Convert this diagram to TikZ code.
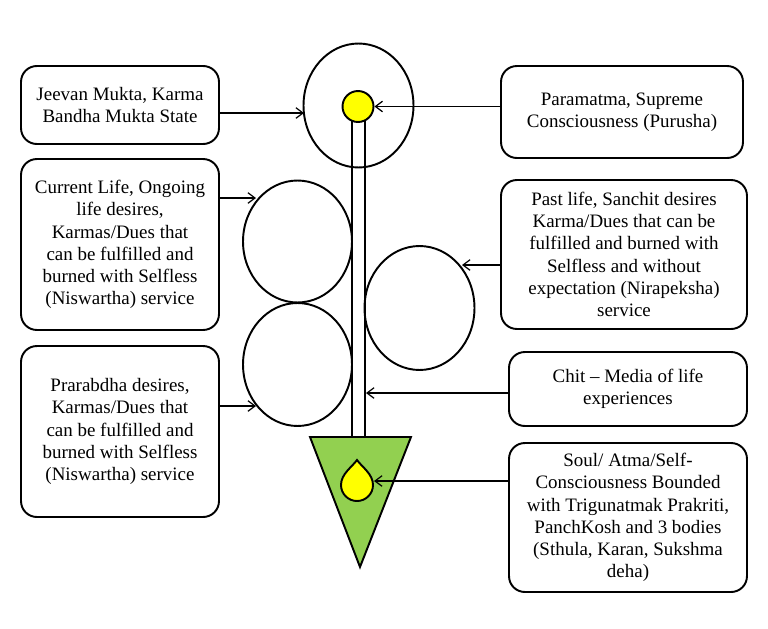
\documentclass[tikz,border=0pt]{standalone}
\usepackage{fontspec}
\setmainfont{Liberation Serif}
\usetikzlibrary{shapes.geometric,arrows.meta}
\definecolor{leafgreen}{HTML}{92D050}
\definecolor{sunyellow}{HTML}{FFFF00}
\tikzset{
  infobox/.style={draw=black, line width=1.1pt, rounded corners=9pt, align=center,
    inner sep=2pt, font=\fontsize{10.8}{12.7}\selectfont},
  ringshape/.style={draw=black, line width=1.1pt, ellipse, inner sep=0pt},
  arr/.style={draw=black, line width=0.7pt, -{Straight Barb[length=4pt,width=6pt]}},
  stemline/.style={draw=black, line width=1.1pt}
}
\begin{document}
\begin{tikzpicture}[x=0.02cm,y=-0.02cm]
\useasboundingbox (0,0) rectangle (768,629);
% left boxes
\node[infobox, minimum width=3.96cm, minimum height=1.56cm] (b1) at (120,105)
  {Jeevan Mukta, Karma\\Bandha Mukta State};
\node[infobox, minimum width=3.96cm, minimum height=3.42cm] (b2) at (120,244.5)
  {Current Life, Ongoing\\life desires,\\Karmas/Dues that\\can be fulfilled and\\burned with Selfless\\(Niswartha) service};
\node[infobox, minimum width=3.96cm, minimum height=3.42cm] (b3) at (120,431.5)
  {Prarabdha desires,\\Karmas/Dues that\\can be fulfilled and\\burned with Selfless\\(Niswartha) service};
% right boxes
\node[infobox, minimum width=4.84cm, minimum height=1.84cm] (r1) at (622,112)
  {Paramatma, Supreme\\Consciousness (Purusha)};
\node[infobox, minimum width=4.92cm, minimum height=2.98cm] (r2) at (624,254.5)
  {Past life, Sanchit desires\\Karma/Dues that can be\\fulfilled and burned with\\Selfless and without\\expectation (Nirapeksha)\\service};
\node[infobox, minimum width=4.76cm, minimum height=1.48cm] (r3) at (628,389)
  {Chit -- Media of life\\experiences};
\node[infobox, minimum width=4.76cm, minimum height=2.98cm] (r4) at (628,517.5)
  {Soul/ Atma/Self-\\Consciousness Bounded\\with Trigunatmak Prakriti,\\PanchKosh and 3 bodies\\(Sthula, Karan, Sukshma\\deha)};
% ellipses
\node[ringshape, minimum width=2.2cm, minimum height=2.48cm] (top) at (358.5,105.5) {};
\node[ringshape, minimum width=2.18cm, minimum height=2.44cm] (ea) at (297.5,241.5) {};
\node[ringshape, minimum width=2.18cm, minimum height=2.46cm] (eb) at (297.5,364.5) {};
\node[ringshape, minimum width=2.2cm, minimum height=2.48cm] (ec) at (419.5,308) {};
% stem
\coordinate (sl1) at (352,118);
\coordinate (sl2) at (352,440);
\coordinate (sr1) at (365,118);
\coordinate (sr2) at (365,440);
\draw[stemline] (sl1) -- (sl2);
\draw[stemline] (sr1) -- (sr2);
% triangle
\coordinate (t1) at (310,437);
\coordinate (t2) at (411,437);
\coordinate (t3) at (360,567);
\draw[line width=1.1pt, fill=leafgreen, line join=miter] (t1) -- (t2) -- (t3) -- cycle;
% yellow circle
\node[draw=black, line width=1.1pt, fill=sunyellow, circle, minimum size=0.62cm, inner sep=0pt] (yc) at (358,106.5) {};
% drop
\draw[line width=1.1pt, fill=sunyellow] (357,460) .. controls (352,467) and (341,474) .. (341,485)
  arc[start angle=180, end angle=0, radius=16]
  .. controls (373,474) and (362,467) .. (357,460) -- cycle;
\coordinate (dropE) at (374,481);
% arrow targets
\coordinate (topW) at (304,113);
\coordinate (eaW) at (256,198);
\coordinate (ebW) at (256,406);
\coordinate (ecE) at (462,265);
\coordinate (stemE) at (366,393);
% arrows
\draw[arr] (b1.east |- topW) -- (topW);
\draw[arr] (b2.east |- eaW) -- (eaW);
\draw[arr] (b3.east |- ebW) -- (ebW);
\draw[arr] (r1.west |- yc.east) -- (yc.east);
\draw[arr] (r2.west |- ecE) -- (ecE);
\draw[arr] (r3.west |- stemE) -- (stemE);
\draw[arr] (r4.west |- dropE) -- (dropE);
\end{tikzpicture}
\end{document}
